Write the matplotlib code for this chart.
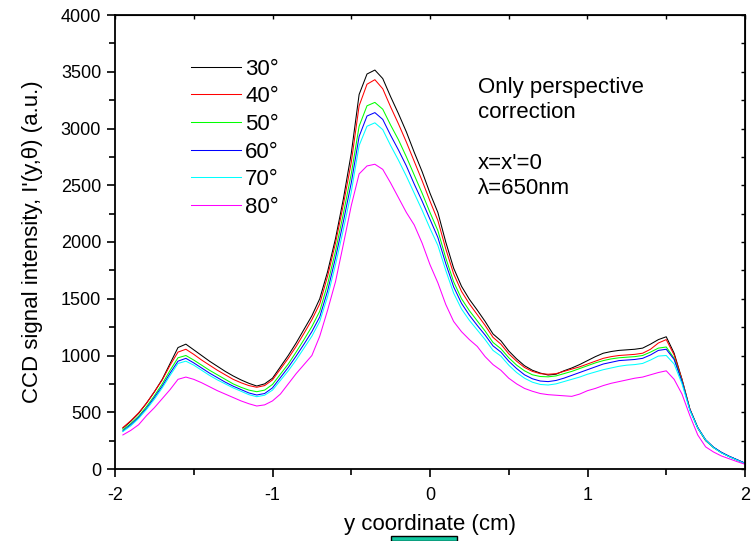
import numpy as np
import matplotlib.pyplot as plt
from matplotlib.patches import Rectangle
from matplotlib.ticker import MultipleLocator

plt.rcParams['font.family'] = ['Liberation Sans', 'DejaVu Sans']

# y coordinate (cm)
y_cm = [-1.95, -1.90, -1.85, -1.80, -1.75, -1.70, -1.65, -1.60, -1.55, -1.50,
        -1.45, -1.40, -1.35, -1.30, -1.25, -1.20, -1.15, -1.10, -1.05, -1.00,
        -0.95, -0.90, -0.85, -0.80, -0.75, -0.70, -0.65, -0.60, -0.55, -0.50,
        -0.45, -0.40, -0.35, -0.30, -0.25, -0.20, -0.15, -0.10, -0.05, 0.00,
        0.05, 0.10, 0.15, 0.20, 0.25, 0.30, 0.35, 0.40, 0.45, 0.50,
        0.55, 0.60, 0.65, 0.70, 0.75, 0.80, 0.85, 0.90, 0.95, 1.00,
        1.05, 1.10, 1.15, 1.20, 1.25, 1.30, 1.35, 1.40, 1.45, 1.50,
        1.55, 1.60, 1.65, 1.70, 1.75, 1.80, 1.85, 1.90, 1.95, 2.00]

i30 = [360, 420, 490, 580, 680, 790, 930, 1070, 1100, 1050,
       1000, 950, 905, 860, 820, 785, 755, 731, 750, 800,
       900, 1000, 1110, 1230, 1350, 1500, 1740, 2030, 2380, 2780,
       3300, 3480, 3515, 3440, 3280, 3130, 2970, 2790, 2620, 2430,
       2260, 2000, 1770, 1610, 1495, 1400, 1300, 1190, 1130, 1040,
       970, 910, 870, 845, 828, 835, 865, 890, 920, 955,
       990, 1020, 1035, 1045, 1050, 1055, 1065, 1100, 1140, 1165,
       1020, 790, 525, 360, 250, 190, 145, 110, 80, 50]
i40 = [365, 425, 495, 580, 680, 785, 915, 1030, 1055, 1010,
       960, 915, 870, 830, 790, 760, 735, 720, 735, 785,
       880, 975, 1080, 1195, 1315, 1455, 1700, 1990, 2330, 2700,
       3200, 3390, 3430, 3350, 3190, 3040, 2880, 2710, 2540, 2360,
       2190, 1940, 1720, 1565, 1455, 1360, 1265, 1160, 1100, 1015,
       950, 895, 860, 840, 835, 840, 860, 880, 900, 925,
       950, 975, 990, 1000, 1005, 1010, 1020, 1055, 1110, 1140,
       1005, 790, 530, 365, 255, 190, 145, 110, 80, 50]
i50 = [345, 400, 465, 550, 645, 750, 870, 980, 1000, 960,
       915, 870, 830, 790, 750, 720, 695, 681, 695, 745,
       835, 925, 1030, 1140, 1255, 1390, 1630, 1920, 2250, 2600,
       3020, 3200, 3230, 3170, 3030, 2900, 2750, 2590, 2430, 2260,
       2100, 1860, 1650, 1500, 1395, 1305, 1215, 1115, 1060, 980,
       915, 865, 830, 815, 812, 820, 840, 860, 885, 910,
       935, 955, 970, 980, 985, 990, 1000, 1030, 1065, 1075,
       975, 775, 525, 365, 255, 190, 145, 110, 80, 50]
i60 = [335, 390, 455, 535, 630, 730, 845, 950, 975, 935,
       890, 845, 805, 765, 730, 700, 670, 652, 665, 715,
       805, 895, 995, 1100, 1210, 1340, 1570, 1860, 2180, 2520,
       2930, 3110, 3140, 3080, 2940, 2810, 2670, 2510, 2360, 2200,
       2040, 1810, 1605, 1460, 1355, 1265, 1180, 1085, 1030, 950,
       885, 830, 795, 775, 770, 780, 800, 825, 850, 875,
       900, 925, 940, 955, 960, 965, 975, 1005, 1045, 1055,
       965, 770, 525, 365, 258, 192, 147, 112, 82, 52]
i70 = [330, 380, 445, 525, 615, 715, 825, 930, 950, 915,
       870, 825, 785, 750, 715, 685, 655, 637, 650, 695,
       780, 865, 960, 1065, 1170, 1300, 1520, 1800, 2110, 2440,
       2850, 3020, 3050, 2990, 2850, 2720, 2580, 2430, 2280, 2120,
       1970, 1750, 1550, 1410, 1310, 1225, 1140, 1045, 995, 915,
       850, 800, 765, 745, 740, 750, 770, 790, 810, 835,
       855, 875, 890, 905, 915, 920, 930, 960, 995, 1000,
       925, 750, 515, 360, 255, 188, 142, 108, 78, 48]
i80 = [300, 340, 390, 470, 540, 620, 700, 790, 810, 790,
       760, 725, 690, 660, 630, 600, 575, 555, 565, 600,
       660, 750, 840, 920, 1000, 1170, 1400, 1650, 1980, 2320,
       2600, 2670, 2685, 2640, 2520, 2390, 2260, 2150, 1990, 1800,
       1640, 1450, 1300, 1210, 1140, 1080, 990, 920, 870, 800,
       750, 710, 685, 665, 655, 650, 645, 640, 660, 690,
       710, 735, 755, 770, 785, 800, 810, 830, 850, 865,
       790, 660, 470, 300, 195, 150, 115, 90, 65, 42]

series = [i30, i40, i50, i60, i70, i80]
labels = ['30°', '40°', '50°', '60°', '70°', '80°']
colors = ['#000000', '#ff0000', '#00ff00', '#0000ff', '#00ffff', '#ff00ff']

fig = plt.figure(figsize=(7.53, 5.41), dpi=100)
ax = fig.add_axes([115/753, 72/541, 630/753, 454/541])

for vals, lab, col in zip(series, labels, colors):
    ax.plot(y_cm, vals, color=col, lw=0.75, label=lab)

ax.set_xlim(-2, 2)
ax.set_ylim(0, 4000)
ax.xaxis.set_major_locator(MultipleLocator(1))
ax.xaxis.set_minor_locator(MultipleLocator(0.5))
ax.yaxis.set_major_locator(MultipleLocator(500))
ax.yaxis.set_minor_locator(MultipleLocator(250))
ax.xaxis.set_major_formatter(plt.FuncFormatter(lambda v, p: '%d' % v))

for s in ax.spines.values():
    s.set_linewidth(1.3)
ax.tick_params(which='both', direction='out', labelsize=13, width=1.2)
ax.tick_params(which='major', length=6)
ax.tick_params(which='minor', length=4)
ax.tick_params(axis='x', pad=7)
ax.tick_params(axis='y', pad=4)

# inward ticks on top and right
axt = ax.secondary_xaxis('top')
axt.xaxis.set_major_locator(MultipleLocator(1))
axt.xaxis.set_minor_locator(MultipleLocator(0.5))
axt.tick_params(which='both', direction='in', length=3, labeltop=False, width=1)
axr = ax.secondary_yaxis('right')
axr.yaxis.set_major_locator(MultipleLocator(500))
axr.yaxis.set_minor_locator(MultipleLocator(250))
axr.tick_params(which='both', direction='in', length=3, labelright=False, width=1)

ax.set_xlabel('y coordinate (cm)', fontsize=16, labelpad=7)
ax.set_ylabel("CCD signal intensity, I'(y,\u03b8) (a.u.)", fontsize=16, labelpad=13)

ax.legend(loc='upper left', bbox_to_anchor=(0.12, 0.904), frameon=False,
          fontsize=16, handlelength=2.25, handletextpad=0.2, labelspacing=0.3,
          borderpad=0, borderaxespad=0)

ax.text(0.576, 0.812, 'Only perspective\ncorrection', transform=ax.transAxes,
        fontsize=16, va='center', ha='left', linespacing=1.25)
ax.text(0.576, 0.645, "x=x'=0\n\u03bb=650nm", transform=ax.transAxes,
        fontsize=16, va='center', ha='left', linespacing=1.25)

fig.add_artist(Rectangle((391/753, 0), 66/753, 5/541, transform=fig.transFigure,
                         facecolor='#10c8a0', edgecolor='black', lw=1))

plt.savefig('out.png', dpi=100)
